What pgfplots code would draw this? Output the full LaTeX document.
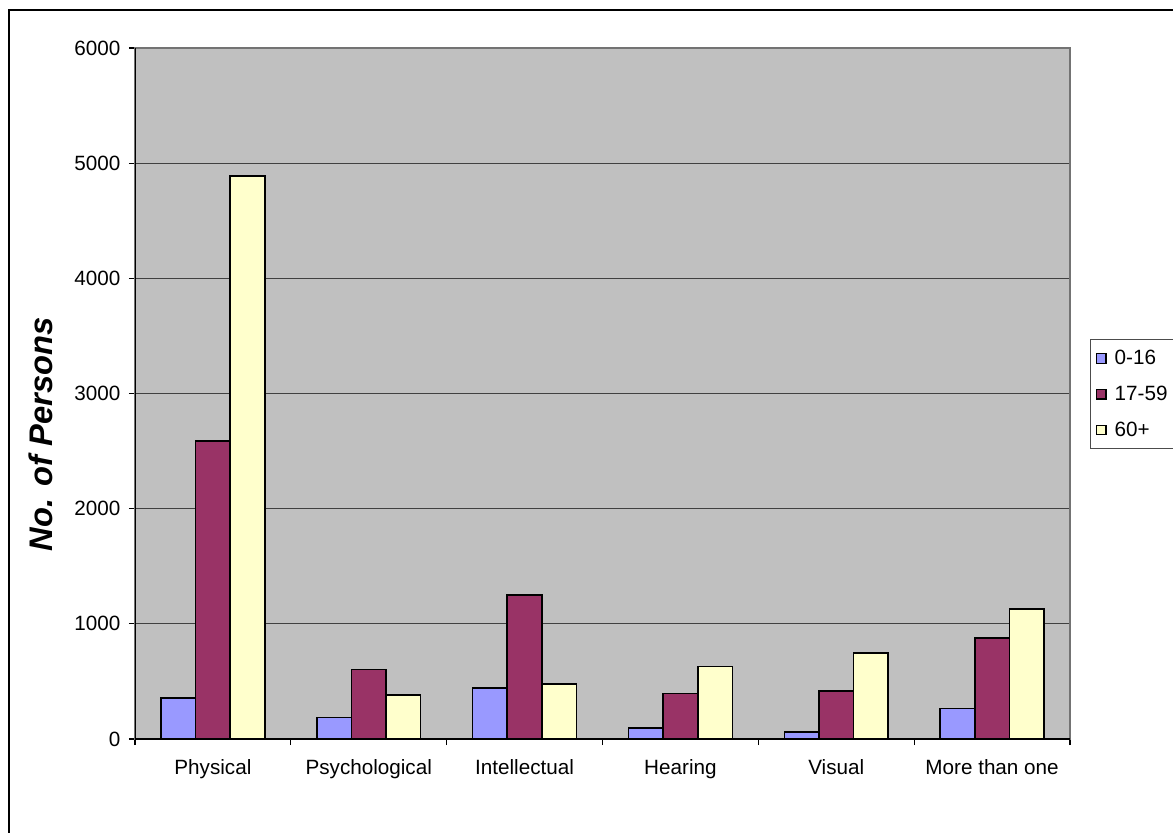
\documentclass[border=0pt]{standalone}
\usepackage{fontspec}
\setmainfont{Liberation Sans}
\usepackage{pgfplots}
\pgfplotsset{compat=1.18}

\definecolor{barblue}{HTML}{9999FF}
\definecolor{barmaroon}{HTML}{993366}
\definecolor{baryellow}{HTML}{FFFFCC}
\definecolor{plotgray}{HTML}{C0C0C0}

\begin{document}
\begin{tikzpicture}
% picture is 1173 x 832 px at 0.75pt per px
\useasboundingbox (0,0) rectangle (879.75pt,624pt);
\draw[line width=1.1pt] (6.75pt,-5pt) -- (6.75pt,616.5pt) -- (890pt,616.5pt);

\begin{axis}[
    at={(101.25pt,69.75pt)}, anchor=south west,
    scale only axis,
    width=701.25pt, height=518.25pt,
    axis background/.style={fill=plotgray},
    axis line style={draw=black!55, line width=0.8pt},
    ybar=0pt,
    bar width=0.222,
    xmin=-0.5, xmax=5.5,
    ymin=0, ymax=6000,
    xtick={0,1,2,3,4,5},
    xticklabels={Physical, Psychological, Intellectual, Hearing, Visual, More than one},
    minor xtick={-0.5,0.5,1.5,2.5,3.5,4.5,5.5},
    xtick style={draw=none},
    minor x tick style={draw=black, line width=0.8pt},
    ytick={0,1000,...,6000},
    ytick style={draw=black, line width=0.8pt},
    tick pos=left,
    tick align=outside,
    major tick length=4.5pt, minor tick length=4.5pt,
    ymajorgrids,
    major grid style={draw=black!75, line width=0.75pt},
    scaled y ticks=false,
    /pgf/number format/assume math mode=true,
    yticklabel={\pgfmathprintnumber[fixed,1000 sep={}]{\tick}},
    ticklabel style={font=\fontsize{15.5}{18.6}\selectfont},
    xticklabel style={yshift=-7pt},
    yticklabel style={xshift=-3pt},
    every axis y label/.style={at={(rel axis cs:-0.1005,0.441)}, rotate=90, anchor=center,
        font=\fontsize{24.5}{29}\selectfont\bfseries\itshape},
    ylabel={No. of Persons},
    legend style={at={(1.0214,0.5789)}, anchor=north west,
        draw=black!70, line width=0.8pt, fill=white,
        font=\fontsize{15.5}{18.6}\selectfont,
        row sep=10.5pt, column sep=4pt, inner ysep=6pt, inner xsep=4pt,
        column 2/.style={text width=60pt}},
    legend cell align=left,
    legend image code/.code={\draw[#1, draw=black, line width=0.9pt] (0pt,-3.6pt) rectangle (7.2pt,3.6pt);},
    every axis plot/.append style={draw=black, line width=1.2pt},
]
\addplot[fill=barblue] coordinates {(0,355) (1,185) (2,445) (3,95) (4,63) (5,266)};
\addlegendentry{0-16}
\addplot[fill=barmaroon] coordinates {(0,2585) (1,605) (2,1250) (3,396) (4,417) (5,877)};
\addlegendentry{17-59}
\addplot[fill=baryellow] coordinates {(0,4887) (1,382) (2,480) (3,628) (4,747) (5,1130)};
\addlegendentry{60+}
\draw[black, line width=0.8pt] (rel axis cs:0,0) -- (rel axis cs:0,1);
\draw[black, line width=0.8pt] (rel axis cs:0,0) -- (rel axis cs:1,0);
\end{axis}
\end{tikzpicture}
\end{document}
